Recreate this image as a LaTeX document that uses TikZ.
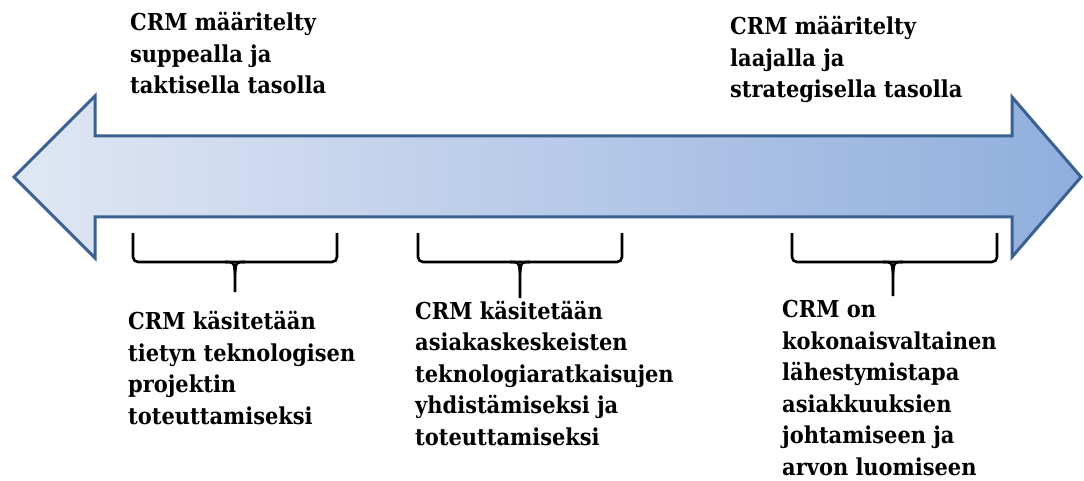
\documentclass[tikz,border=0pt]{standalone}
\usepackage{fontspec}
\setmainfont{DejaVu Serif Condensed}
\usetikzlibrary{calc}
\definecolor{arrowedge}{HTML}{3B6191}
\definecolor{arrowleft}{HTML}{E0E7F4}
\definecolor{arrowright}{HTML}{90AEDD}
\tikzset{
  txt/.style={anchor=base west, inner sep=0pt, align=left,
    font=\fontsize{23.3}{31.5}\selectfont\bfseries},
  bracepath/.style={draw=black, line width=2.6pt, rounded corners=5pt},
  forkpath/.style={draw=black, line width=2.6pt},
}
\begin{document}
\begin{tikzpicture}[x=1pt,y=-1pt]
\useasboundingbox (0,0) rectangle (1084,481);
% double-headed arrow
\path[left color=arrowleft, right color=arrowright, draw=arrowedge, line width=3pt, line join=miter]
  (14,177) -- (95,96) -- (95,136) -- (1012,136) -- (1012,97) -- (1081,177)
  -- (1012,257) -- (1012,217) -- (95,217) -- (95,258) -- cycle;
% braces
\foreach \a/\b/\m/\t in {133/337/235/292, 418/622/520/298, 792/997/893/296}{
  \draw[bracepath] (\a,233) -- (\a,262) -- (\b,262) -- (\b,233);
  \draw[forkpath] (\m-10,262) .. controls (\m-1,262) .. (\m,274) -- (\m,\t);
  \draw[forkpath] (\m+10,262) .. controls (\m+1,262) .. (\m,274);
}
% texts (anchored at the baseline of the last line)
\node[txt] (tl) at (130,94) {CRM määritelty\\suppealla ja\\taktisella tasolla};
\node[txt] (tr) at (730,98) {CRM määritelty\\laajalla ja\\strategisella tasolla};
\node[txt] (b1) at (128,424) {CRM käsitetään\\tietyn teknologisen\\projektin\\toteuttamiseksi};
\node[txt] (b2) at (415,445) {CRM käsitetään\\asiakaskeskeisten\\teknologiaratkaisujen\\yhdistämiseksi ja\\toteuttamiseksi};
\node[txt] (b3) at (782,475) {CRM on\\kokonaisvaltainen\\lähestymistapa\\asiakkuuksien\\johtamiseen ja\\arvon luomiseen};
\end{tikzpicture}
\end{document}
